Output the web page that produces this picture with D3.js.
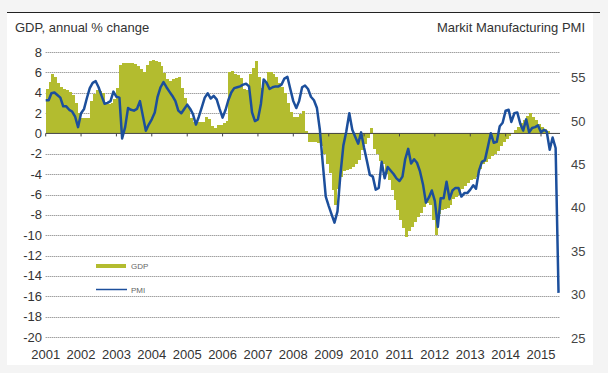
<!DOCTYPE html>
<html>
<head>
<meta charset="utf-8">
<script src="https://cdn.jsdelivr.net/npm/d3@7"></script>
<style>
  body { margin: 0; background: #f4f4f4; }
  svg { display: block; font-family: "Liberation Sans", Arial, sans-serif; }
</style>
</head>
<body>
<svg id="chart" width="608" height="373"></svg>
<script>
// monthly values, starting Jan 2001
const years = [2001, 2002, 2003, 2004, 2005, 2006, 2007, 2008, 2009, 2010, 2011, 2012, 2013, 2014, 2015];
const gdpTicks = [8, 6, 4, 2, 0, -2, -4, -6, -8, -10, -12, -14, -16, -18, -20];
const pmiTicks = [55, 50, 45, 40, 35, 30, 25];

const pmi = [
  52.4, 52.4, 53.2, 53.3, 53.0, 52.7, 51.7, 51.7, 51.3, 51.1, 50.5, 49.3,
  50.9, 51.4, 52.6, 53.8, 54.4, 54.6, 53.9, 52.9, 52.0, 52.1, 52.3, 53.4,
  52.8, 52.7, 48.0, 49.3, 51.5, 51.3, 51.2, 51.4, 52.3, 50.6, 48.9, 49.6,
  50.2, 51.0, 52.8, 53.9, 54.5, 53.9, 53.4, 52.9, 52.3, 51.2, 50.9, 51.4,
  51.9, 51.4, 50.8, 49.6, 50.5, 51.6, 52.7, 53.2, 52.6, 52.9, 52.5, 51.4,
  50.4, 51.3, 52.4, 53.3, 53.8, 53.9, 54.0, 54.2, 54.3, 54.0, 51.0, 50.0,
  50.2, 52.0, 54.8, 54.4, 53.7, 53.9, 54.0, 54.0, 54.2, 54.9, 55.1, 53.7,
  52.3, 51.5, 52.3, 53.9, 54.1, 53.7, 52.8, 52.4, 51.5, 49.0, 45.0, 41.3,
  40.2, 39.2, 38.3, 39.6, 43.8, 47.2, 48.8, 50.9, 49.0, 48.2, 47.4, 48.7,
  46.9, 45.3, 43.8, 43.6, 42.1, 42.3, 45.3, 43.4, 44.7, 44.3, 43.9, 43.4,
  43.1, 43.6, 45.6, 46.8, 45.1, 45.6, 45.2, 44.2, 42.7, 40.6, 41.2, 42.0,
  40.8, 37.8, 41.1, 41.1, 43.0, 41.0, 42.0, 42.3, 42.3, 41.3, 41.7, 41.7,
  42.1, 42.6, 42.2, 44.3, 45.3, 45.5, 47.0, 48.6, 47.5, 47.6, 49.4, 49.8,
  51.2, 51.3, 49.9, 50.9, 51.0, 49.7, 48.9, 50.2, 48.7, 49.2, 49.3, 49.5,
  48.7, 49.0, 48.8, 46.7, 48.1, 46.9, 30.2
];

const gdp = [
  4.4, 5.1, 5.8, 5.5, 5.0, 4.6, 4.4, 4.3, 4.1, 3.8, 3.0, 2.0,
  1.5, 1.5, 1.5, 3.2, 3.9, 4.3, 4.2, 4.0, 2.9, 2.9, 3.0, 3.4,
  4.5, 6.7, 6.9, 6.9, 6.9, 6.9, 6.8, 6.6, 6.3, 6.0, 6.7, 7.1,
  7.2, 7.1, 7.0, 6.6, 5.9, 5.3, 5.2, 5.3, 5.4, 5.5, 4.5, 3.5,
  2.6, 1.5, 1.1, 1.1, 1.1, 1.1, 1.6, 1.4, 0.7, 0.5, 0.8, 0.8,
  1.0, 1.2, 6.0, 6.1, 5.8, 5.7, 5.4, 4.4, 4.3, 5.8, 6.4, 7.1,
  5.5, 4.5, 5.0, 6.0, 6.0, 5.8, 5.5, 5.0, 4.6, 4.0, 3.0, 2.1,
  1.6, 1.6, 1.9, 2.2, 0.2, -0.8, -0.8, -0.8, -0.9, -1.2, -2.0, -3.0,
  -3.9, -5.6, -7.0, -5.5, -4.3, -3.7, -3.6, -3.5, -3.3, -3.0, -2.6, -1.6,
  -1.0, -0.4, 0.5, -1.5, -2.0, -2.7, -3.0, -4.0, -4.6, -5.6, -6.5, -7.5,
  -8.5, -9.3, -10.2, -9.6, -9.2, -8.7, -8.2, -7.8, -7.2, -6.8, -7.0, -8.5,
  -10.0, -7.9, -7.5, -7.4, -7.3, -7.0, -6.4, -6.2, -6.0, -5.5, -5.2, -4.9,
  -4.6, -4.5, -4.3, -3.5, -3.0, -2.8, -2.5, -2.2, -2.0, -1.7, -1.2, -0.8,
  -0.5, -0.3, 0.0, 0.3, 0.6, 1.0, 1.3, 1.7, 2.0, 1.6, 1.3, 0.9,
  0.6, 0.4, 0.2
];

const start = new Date(2001, 0, 1);
const month = i => d3.timeMonth.offset(start, i);

const svg = d3.select("#chart");

const x = d3.scaleTime()
  .domain([new Date(2001, 0, 1), new Date(2015, 0, 1)])
  .range([45.7, 541]);
const yL = d3.scaleLinear().domain([-20, 8]).range([337, 52]);
const yR = d3.scaleLinear().domain([25, 55]).range([338, 77.7]);
const xEnd = 560;

// panel
svg.append("rect")
  .attr("x", 7).attr("y", 12).attr("width", 586).attr("height", 353)
  .attr("fill", "#fff");
svg.append("line")
  .attr("x1", 7).attr("x2", 600).attr("y1", 12.5).attr("y2", 12.5)
  .attr("stroke", "#222").attr("stroke-width", 1);

// titles
svg.append("text").attr("x", 15).attr("y", 32)
  .attr("font-size", 13).attr("fill", "#333")
  .text("GDP, annual % change");
svg.append("text").attr("x", 585).attr("y", 32)
  .attr("font-size", 13).attr("fill", "#333").attr("text-anchor", "end")
  .text("Markit Manufacturing PMI");

// grid
svg.append("g").selectAll("line")
  .data(gdpTicks.filter(d => d !== 0))
  .join("line")
  .attr("x1", x(start)).attr("x2", xEnd)
  .attr("y1", d => Math.round(yL(d)) + 0.5).attr("y2", d => Math.round(yL(d)) + 0.5)
  .attr("stroke", "#777").attr("stroke-width", 1)
  .attr("stroke-dasharray", "1,1");

// left axis labels
svg.append("g").selectAll("text")
  .data(gdpTicks)
  .join("text")
  .attr("x", 42).attr("y", d => yL(d))
  .attr("dy", "0.35em")
  .attr("text-anchor", "end")
  .attr("font-size", 13).attr("fill", "#333")
  .text(d => d);

// right axis labels
svg.append("g").selectAll("text")
  .data(pmiTicks)
  .join("text")
  .attr("x", 571).attr("y", d => yR(d))
  .attr("dy", "0.35em")
  .attr("font-size", 13).attr("fill", "#444")
  .text(d => d);

// GDP columns
svg.append("g").selectAll("rect")
  .data(gdp)
  .join("rect")
  .attr("x", (d, i) => x(month(i)))
  .attr("width", (d, i) => x(month(i + 1)) - x(month(i)))
  .attr("y", d => Math.min(yL(d), yL(0)))
  .attr("height", d => Math.abs(yL(d) - yL(0)))
  .attr("fill", "#b3bc2f")
  .attr("shape-rendering", "crispEdges");

// zero line and year ticks
svg.append("line")
  .attr("x1", x(start)).attr("x2", xEnd)
  .attr("y1", yL(0)).attr("y2", yL(0))
  .attr("stroke", "#444").attr("stroke-width", 1);
svg.append("g").selectAll("line")
  .data(years)
  .join("line")
  .attr("x1", d => x(new Date(d, 0, 1))).attr("x2", d => x(new Date(d, 0, 1)))
  .attr("y1", yL(0)).attr("y2", yL(0) + 3)
  .attr("stroke", "#444");

// x labels
svg.append("g").selectAll("text")
  .data(years)
  .join("text")
  .attr("x", d => x(new Date(d, 0, 1)))
  .attr("y", 358.5)
  .attr("text-anchor", "middle")
  .attr("font-size", 13).attr("fill", "#333")
  .text(d => d);

// PMI line
const line = d3.line()
  .x((d, i) => x(month(i)))
  .y(d => yR(d));
svg.append("path")
  .datum(pmi)
  .attr("d", line)
  .attr("fill", "none")
  .attr("stroke", "#1c4f9c")
  .attr("stroke-width", 2.5)
  .attr("stroke-linejoin", "round");

// legend
svg.append("rect")
  .attr("x", 96).attr("y", 264).attr("width", 30).attr("height", 4)
  .attr("fill", "#b3bc2f");
svg.append("text").attr("x", 131).attr("y", 269)
  .attr("font-size", 8).attr("fill", "#666").text("GDP");
svg.append("line")
  .attr("x1", 96).attr("x2", 127).attr("y1", 289.5).attr("y2", 289.5)
  .attr("stroke", "#1c4f9c").attr("stroke-width", 1.5);
svg.append("text").attr("x", 131).attr("y", 292.5)
  .attr("font-size", 8).attr("fill", "#666").text("PMI");
</script>
</body>
</html>
